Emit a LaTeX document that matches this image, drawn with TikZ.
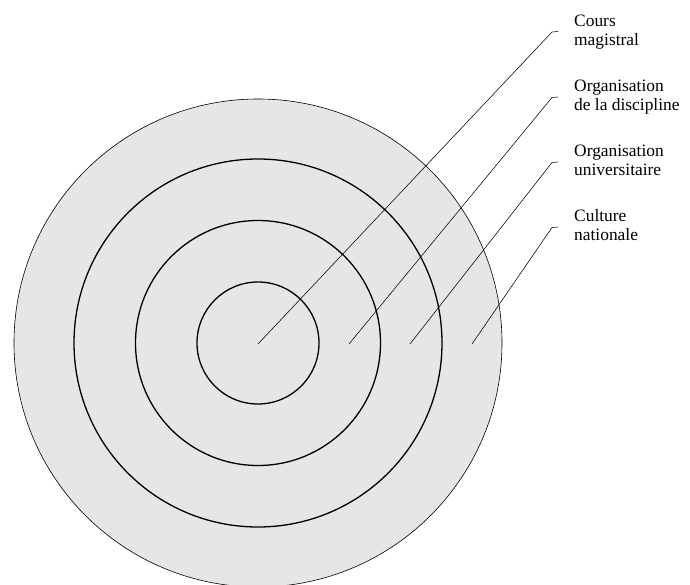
\documentclass[tikz,border=0pt]{standalone}
\usepackage{fontspec}
\setmainfont{Liberation Serif}
\usetikzlibrary{positioning}
\definecolor{Stipple}{HTML}{E6E6E6}
\newcommand{\tagfont}{\fontsize{17.4}{19}\selectfont}
\tikzset{rim/.style={draw=black,line width=.6pt},ring/.style={draw=black,line width=1.3pt},leader/.style={draw=black,line width=.55pt},tag/.style={anchor=base west,align=left,inner sep=0pt,font=\tagfont}}

\begin{document}
\begin{tikzpicture}[x=1pt,y=-1pt]
  \useasboundingbox (0,0) rectangle (690,585);
  \coordinate (c) at (258,343);
  \fill[Stipple] (c) circle (244);\draw[rim] (c) circle (244);
  \foreach \r in {61,122.5,184}\draw[ring] (c) circle (\r);
  % leaders from the rings to the labels
  \foreach \n/\x/\y in {1/258/32,2/349/97.5,3/410/162.5,4/472/227.5}{
    \coordinate (s\n) at (\x,344);\coordinate (b\n) at (552,\y);\coordinate (e\n) at (558,\y-.5);
    \draw[leader] (s\n) -- (b\n) -- (e\n);}
  % labels, placed by the baseline of their second line
  \node[tag] (cours) at (574,45.7) {Cours\\magistral};
  \node[tag] (discipline) at (574,110.7) {Organisation\\de la discipline};
  \node[tag] (universite) at (574,175.7) {Organisation\\universitaire};
  \node[tag] (culture) at (574,240.7) {Culture\\nationale};
\end{tikzpicture}
\end{document}
